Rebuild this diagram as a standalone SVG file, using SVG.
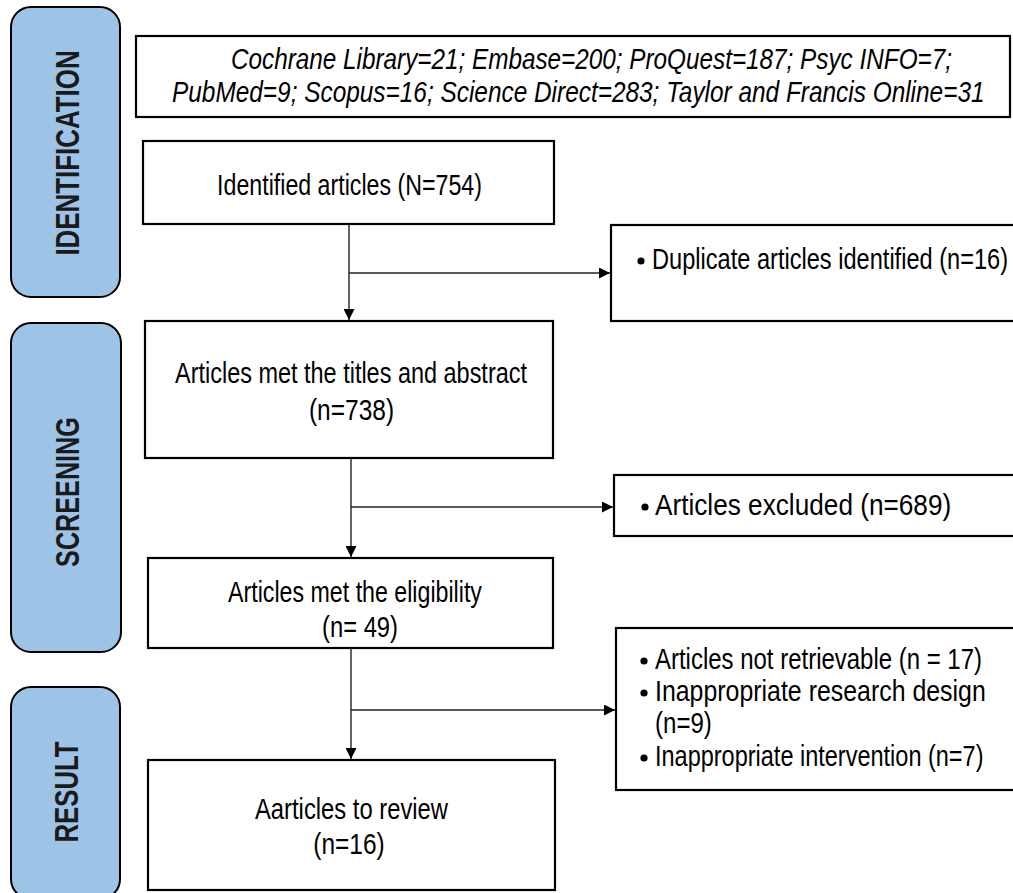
<svg xmlns="http://www.w3.org/2000/svg" width="1013" height="893" viewBox="0 0 1013 893">
<style>
.stage{fill:#9DC3E6;stroke:#000;stroke-width:2}
.stxt{font-family:"Liberation Sans",Arial,sans-serif;font-weight:bold;fill:#1a1a1a;text-anchor:middle}
.box{fill:#fff;stroke:#000;stroke-width:2.2}
.t{font-family:"Liberation Sans",Arial,sans-serif;fill:#000}
.m{text-anchor:middle}
.it{font-style:italic}
.conn{stroke:#222;stroke-width:1.4;fill:none}
</style>
<defs>
<marker id="ah" viewBox="0 0 10 10" refX="10" refY="5" markerWidth="11" markerHeight="11" markerUnits="userSpaceOnUse" orient="auto">
<path d="M0,0 L10,5 L0,10 Z" fill="#000"/>
</marker>
</defs>
<rect width="1013" height="893" fill="#fff"/>

<g id="stage-identification">
<rect class="stage" x="11" y="7" width="109" height="290" rx="20"/>
<text class="stxt" font-size="25.9" transform="translate(79,153) rotate(-90) scale(1,1.31)">IDENTIFICATION</text>
</g>
<g id="stage-screening">
<rect class="stage" x="11" y="323" width="110" height="329" rx="20"/>
<text class="stxt" font-size="25.2" transform="translate(79,492) rotate(-90) scale(1,1.35)">SCREENING</text>
</g>
<g id="stage-result">
<rect class="stage" x="11" y="687" width="109" height="212" rx="20"/>
<text class="stxt" font-size="25.75" transform="translate(78,792) rotate(-90) scale(1,1.32)">RESULT</text>
</g>

<g id="sources">
<rect class="box" x="136" y="36" width="874" height="81"/>
<text class="t it" font-size="24.3" transform="translate(231,69) scale(1,1.2)">Cochrane Library=21; Embase=200; ProQuest=187; Psyc INFO=7;</text>
<text class="t it" font-size="24.4" transform="translate(172,102) scale(1,1.2)">PubMed=9; Scopus=16; Science Direct=283; Taylor and Francis Online=31</text>
</g>

<g id="identified">
<rect class="box" x="143" y="141" width="411" height="83"/>
<text class="t m" font-size="23.2" transform="translate(349.5,195) scale(1,1.29)">Identified articles (N=754)</text>
</g>

<g id="duplicates">
<rect class="box" x="611" y="225" width="420" height="96"/>
<circle cx="641" cy="261" r="3.6"/>
<text class="t" font-size="23.6" transform="translate(652,269) scale(1,1.27)">Duplicate articles identified (n=16)</text>
</g>

<g id="titles-abstract">
<rect class="box" x="145" y="321" width="408" height="137"/>
<text class="t m" font-size="23.46" transform="translate(351,383) scale(1,1.28)">Articles met the titles and abstract</text>
<text class="t m" font-size="24.5" transform="translate(351.5,420) scale(1,1.22)">(n=738)</text>
</g>

<g id="excluded">
<rect class="box" x="614" y="475" width="420" height="61"/>
<circle cx="645" cy="507" r="3.6"/>
<text class="t" font-size="26.2" transform="translate(655,515) scale(1,1.15)">Articles excluded (n=689)</text>
</g>

<g id="eligibility">
<rect class="box" x="148" y="558" width="405" height="90"/>
<text class="t m" font-size="23.2" transform="translate(355,602) scale(1,1.29)">Articles met the eligibility</text>
<text class="t m" font-size="23.8" transform="translate(360,637) scale(1,1.26)">(n= 49)</text>
</g>

<g id="reasons">
<rect class="box" x="616" y="628" width="420" height="162"/>
<circle cx="644" cy="661" r="3.6"/>
<text class="t" font-size="23.97" transform="translate(655,669) scale(1,1.25)">Articles not retrievable (n = 17)</text>
<circle cx="644" cy="693" r="3.6"/>
<text class="t" font-size="24.9" transform="translate(655,701) scale(1,1.2)">Inappropriate research design</text>
<text class="t" font-size="24.1" transform="translate(655,733) scale(1,1.24)">(n=9)</text>
<circle cx="644" cy="758" r="3.6"/>
<text class="t" font-size="23.5" transform="translate(655,766) scale(1,1.28)">Inappropriate intervention (n=7)</text>
</g>

<g id="review">
<rect class="box" x="148" y="760" width="407" height="130"/>
<text class="t m" font-size="23.8" transform="translate(351.5,819) scale(1,1.26)">Aarticles to review</text>
<text class="t m" font-size="24.5" transform="translate(349,854) scale(1,1.22)">(n=16)</text>
</g>

<g id="connectors">
<line class="conn" x1="349" y1="225" x2="349" y2="320" marker-end="url(#ah)"/>
<line class="conn" x1="349" y1="273" x2="610" y2="273" marker-end="url(#ah)"/>
<line class="conn" x1="351" y1="459" x2="351" y2="557" marker-end="url(#ah)"/>
<line class="conn" x1="351" y1="507" x2="613" y2="507" marker-end="url(#ah)"/>
<line class="conn" x1="351" y1="649" x2="351" y2="759" marker-end="url(#ah)"/>
<line class="conn" x1="351" y1="710" x2="615" y2="710" marker-end="url(#ah)"/>
</g>
</svg>
